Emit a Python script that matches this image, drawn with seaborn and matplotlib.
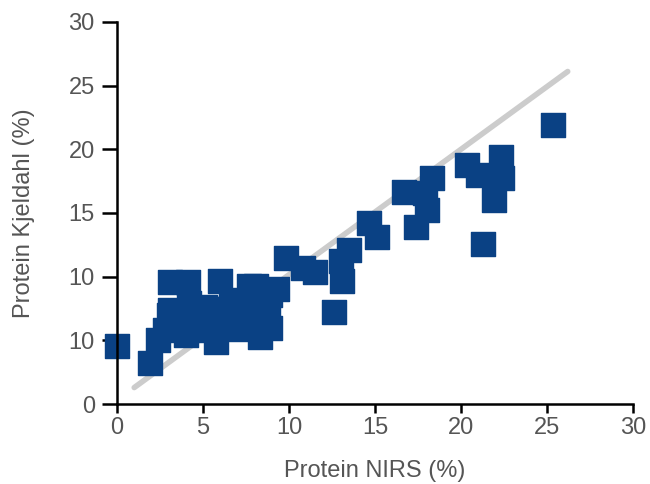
import seaborn as sns
import matplotlib.pyplot as plt
import pandas as pd

# datos
nirs = [0.0, 1.9, 2.4, 2.8, 3.0, 3.1, 3.4, 3.5, 3.9, 4.0, 4.0, 4.2, 4.5, 4.8,
        4.8, 5.0, 5.1, 5.3, 3.1, 4.1, 5.7, 5.75, 6.0, 6.0, 6.3, 6.6, 6.9,
        7.0, 7.2, 7.4, 7.5, 7.7, 8.1, 8.3, 8.4, 8.4, 8.8, 8.9, 8.9, 9.3,
        9.8, 10.8, 11.5, 12.6, 13.0, 13.1, 13.5, 14.65, 15.1, 16.7, 17.4,
        17.9, 18.0, 18.3, 20.35, 21.0, 21.3, 21.9, 22.3, 22.4, 25.35]
kjeldahl = [4.6, 3.2, 5.0, 5.8, 7.0, 7.4, 6.2, 7.3, 6.0, 6.6, 5.4, 7.9, 7.4, 7.0,
            5.8, 6.3, 7.6, 7.5, 9.6, 9.6, 7.4, 4.9, 9.65, 6.0, 7.5, 7.8, 6.2,
            5.9, 6.75, 8.2, 7.5, 9.3, 9.3, 5.3, 8.2, 6.6, 7.5, 8.6, 6.0, 9.0,
            11.5, 10.7, 10.4, 7.2, 11.2, 9.7, 12.1, 14.2, 13.1, 16.65, 13.9,
            16.6, 15.2, 17.75, 18.8, 18.0, 12.6, 16.0, 19.4, 17.75, 21.9]
linea_x = [1.0, 26.2]
linea_y = [1.3, 26.1]
etiquetas_y = ["0", "10", "10", "15", "20", "25", "30"]

df = pd.DataFrame({"nirs": nirs, "kjeldahl": kjeldahl})

sns.set_style("white")
plt.rcParams["font.family"] = ["Liberation Sans", "DejaVu Sans"]

azul = "#0a4184"

fig = plt.figure(figsize=(6.5, 4.84), dpi=100)
ax = fig.add_axes([0.18, 0.165, 0.794, 0.79])

# línea 1:1
ax.plot(linea_x, linea_y, color="#cccccc", linewidth=4, zorder=1)

sns.scatterplot(data=df, x="nirs", y="kjeldahl", marker="s", s=320,
                color=azul, ax=ax, zorder=2, clip_on=False)
puntos = ax.collections[-1]
puntos.set_edgecolor(azul)
puntos.set_linewidth(1)
puntos.set_antialiased(False)

ax.set_xlim(0, 30)
ax.set_ylim(0, 30)
ax.set_xticks(range(0, 31, 5))
ax.set_yticks(range(0, 31, 5))
ax.set_yticklabels(etiquetas_y)

for lado in ["top", "right"]:
    ax.spines[lado].set_visible(False)
for lado in ["left", "bottom"]:
    ax.spines[lado].set_color("black")
    ax.spines[lado].set_linewidth(1.8)
    ax.spines[lado].set_zorder(3)

ax.tick_params(axis="both", direction="out", width=1.8, color="black",
               labelsize=17, labelcolor="#555555", left=True, bottom=True)
ax.tick_params(axis="y", length=11, pad=5)
ax.tick_params(axis="x", length=6.5, pad=3)

ax.set_xlabel("Protein NIRS (%)", fontsize=17, color="#555555", labelpad=15)
ax.set_ylabel("Protein Kjeldahl (%)", fontsize=17, color="#555555", labelpad=24)

fig.savefig("out.png", dpi=100)
plt.close(fig)
